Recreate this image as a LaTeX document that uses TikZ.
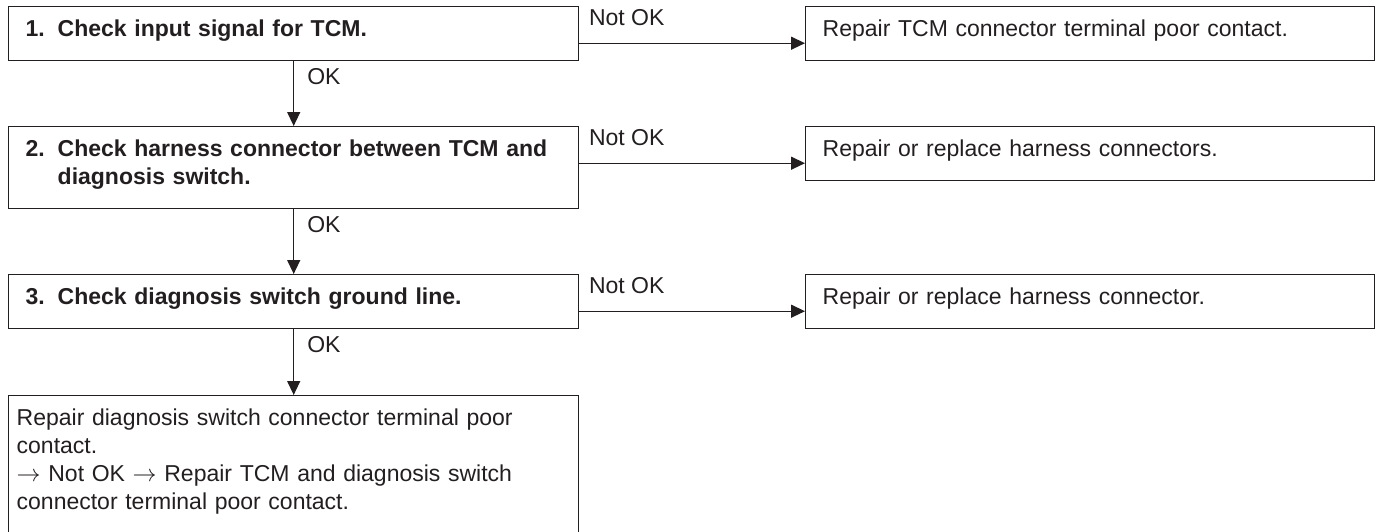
\documentclass[tikz,border=0pt]{standalone}
\usepackage{fontspec}
\setmainfont{Liberation Sans}
\usetikzlibrary{arrows.meta,calc}
\definecolor{ink}{RGB}{35,31,32}
\newcommand{\topstrut}{\rule{0pt}{15pt}}
\newcommand{\botstrut}{\rule[-12pt]{0pt}{0pt}}
\newcommand{\deepstrut}{\rule[-40pt]{0pt}{0pt}}
\newcommand{\hangnum}[1]{\makebox[16pt][l]{#1}}
\begin{document}
\begin{tikzpicture}[x=0.5pt,y=-0.5pt,
  every node/.style={text=ink},
  basebox/.style={draw=ink, line width=0.7pt, anchor=north west, align=left,
    inner ysep=0pt, font=\fontsize{11.5}{14}\selectfont},
  checkbox/.style={basebox, font=\fontsize{11.5}{14}\selectfont\bfseries,
    inner xsep=8.5pt, text width=268pt},
  repairbox/.style={basebox, inner xsep=8.5pt, text width=267.5pt},
  endbox/.style={basebox, inner xsep=4pt, text width=277pt},
  flow/.style={draw=ink, line width=0.65pt, -{Triangle[length=7pt,width=6.5pt]}},
  lbl/.style={inner sep=0pt, font=\fontsize{11.5}{14}\selectfont},
]
\useasboundingbox (0,0) rectangle (1375,531);
\clip (0,0) rectangle (1375,531);

% left column
\node[checkbox] (b1) at (8,6) {\topstrut\hangnum{1.}Check input signal for TCM.\botstrut};
\node[checkbox] (b2) at (8,126) {\topstrut\hangnum{2.}Check harness connector between TCM and\\\hspace*{16pt}diagnosis switch.\botstrut};
\node[checkbox] (b3) at (8,274) {\topstrut\hangnum{3.}Check diagnosis switch ground line.\botstrut};
\node[endbox] (b4) at (8,395) {\topstrut Repair diagnosis switch connector terminal poor\\contact.\\$\rightarrow$ Not OK $\rightarrow$ Repair TCM and diagnosis switch\\connector terminal poor contact.\deepstrut};

% right column
\node[repairbox] (r1) at (805,6) {\topstrut Repair TCM connector terminal poor contact.\botstrut};
\node[repairbox] (r2) at (805,126) {\topstrut Repair or replace harness connectors.\botstrut};
\node[repairbox] (r3) at (805,274) {\topstrut Repair or replace harness connector.\botstrut};

% OK connectors
\draw[flow] (b1.south) -- (b2.north)
  node[lbl, pos=0, anchor=base west, xshift=6.5pt, yshift=-11.5pt] {OK};
\draw[flow] (b2.south) -- (b3.north)
  node[lbl, pos=0, anchor=base west, xshift=6.5pt, yshift=-11.5pt] {OK};
\draw[flow] (b3.south) -- (b4.north)
  node[lbl, pos=0, anchor=base west, xshift=6.5pt, yshift=-11.5pt] {OK};

% Not OK connectors
\coordinate (a1) at ([yshift=-4.75pt]r1.west);
\coordinate (a2) at ([yshift=-4.75pt]r2.west);
\coordinate (a3) at ([yshift=-4.75pt]r3.west);
\draw[flow] (a1 -| b1.east) -- (a1)
  node[lbl, pos=0, anchor=base west, xshift=4.5pt, yshift=9pt] {Not OK};
\draw[flow] (a2 -| b2.east) -- (a2)
  node[lbl, pos=0, anchor=base west, xshift=4.5pt, yshift=9pt] {Not OK};
\draw[flow] (a3 -| b3.east) -- (a3)
  node[lbl, pos=0, anchor=base west, xshift=4.5pt, yshift=9pt] {Not OK};
\end{tikzpicture}
\end{document}
